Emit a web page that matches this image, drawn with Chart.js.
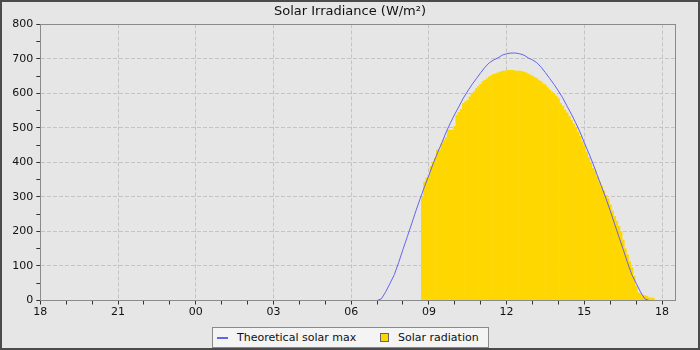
<!DOCTYPE html>
<html>
<head>
<meta charset="utf-8">
<script src="https://cdn.jsdelivr.net/npm/chart.js@4"></script>
<style>
  body { margin: 0; }
  #frame {
    position: relative;
    width: 700px; height: 350px;
    box-sizing: border-box;
    border: 2px solid #4b4b4b;
    background: #e6e6e6;
    font-family: 'DejaVu Sans', sans-serif;
  }
  #chart { position: absolute; left: 0; top: 0; }
  #legend {
    position: absolute; left: 210px; top: 325px;
    width: 277px; height: 21px;
    box-sizing: border-box;
    border: 1px solid #8a8a8a;
    background: #f4f4f4;
    font-size: 11px; color: #111;
  }
  #legend span { position: absolute; white-space: nowrap; line-height: 13px; }
  .swatch-line { position: absolute; left: 4px; top: 9px; width: 11px; height: 2px; background: #6464f0; }
  .swatch-box { position: absolute; left: 167px; top: 5px; width: 7px; height: 7px; border: 1px solid #666; background: #ffd700; }
</style>
</head>
<body>
<div id="frame">
  <canvas id="chart" width="696" height="346"></canvas>
  <div id="legend">
    <div class="swatch-line"></div>
    <span style="left:24px; top:3px;">Theoretical solar max</span>
    <div class="swatch-box"></div>
    <span style="left:185px; top:3px;">Solar radiation</span>
  </div>
</div>
<script>
// axis runs from 18:00 to about 18:30 the next day, in hours since 18:00
const xMin = 0;
const xMax = 24.5;
const yMax = 800;

// theoretical clear-sky maximum, every 10 minutes from 07:00
const theoStart = '07:00';
const theoStepMin = 10;
const theoValues = [
  0, 5, 25, 50, 75, 110, 148, 185, 222, 260,
  296, 330, 363, 397, 428, 457, 488, 515, 540, 563,
  587, 607, 626, 643, 660, 676, 689, 697, 703, 711,
  715, 717, 717, 715, 711, 703, 697, 689, 676, 660,
  643, 626, 607, 587, 563, 540, 515, 488, 457, 428,
  397, 363, 330, 296, 260, 222, 185, 148, 110, 75,
  50, 25, 5, 0
];

// measured solar radiation, every 5 minutes from 08:45
const radStart = '08:45';
const radStepMin = 5;
const radValues = [
  300, 344, 355,
  363, 389, 400, 412, 436, 436, 455, 465, 472, 494, 494, 494,
  505, 537, 545, 554, 571, 576, 580, 590, 600, 605, 614, 620,
  626, 634, 638, 642, 648, 652, 655, 657, 660, 662, 665, 665,
  666, 667, 667, 667, 665, 665, 665, 664, 662, 660, 656, 653,
  650, 646, 643, 637, 634, 628, 624, 617, 610, 604, 598, 592,
  585, 571, 563, 552, 544, 533, 522, 512, 500, 488, 476, 460,
  447, 431, 414, 400, 383, 375, 358, 342, 330, 318, 305, 295,
  277, 260, 244, 230, 215, 200, 175, 150, 132, 112, 95, 70,
  40, 22, 20, 14, 14, 12, 8, 8, 6
];

// 'HH:MM' -> hours since 18:00 the evening before
function toAxisHours(hhmm) {
  const [h, m] = hhmm.split(':').map(Number);
  return ((h - 18 + 24) % 24) + m / 60;
}

function toPoints(start, stepMin, values) {
  const t0 = toAxisHours(start);
  return values.map((v, i) => ({ x: t0 + i * stepMin / 60, y: v }));
}

const FONT = { family: "'DejaVu Sans', sans-serif", size: 11 };
const GRID = '#c4c4c4';
const AXIS = '#8a8a8a';

// closes the plot box on the top and right sides
const plotFrame = {
  id: 'plotFrame',
  afterDraw(chart) {
    const { ctx, chartArea: a } = chart;
    ctx.save();
    ctx.strokeStyle = AXIS;
    ctx.lineWidth = 1;
    const l = Math.floor(a.left) + 0.5, t = Math.floor(a.top) + 0.5;
    const r = Math.floor(a.right) + 0.5, b = Math.floor(a.bottom) + 0.5;
    ctx.strokeRect(l, t, r - l, b - t);
    ctx.restore();
  }
};

new Chart(document.getElementById('chart').getContext('2d'), {
  type: 'bar',
  data: {
    datasets: [
      {
        type: 'line',
        label: 'Theoretical solar max',
        data: toPoints(theoStart, theoStepMin, theoValues),
        borderColor: '#6464f0',
        borderWidth: 1,
        pointRadius: 0,
        tension: 0,
        fill: false,
        order: 0
      },
      {
        type: 'bar',
        label: 'Solar radiation',
        data: toPoints(radStart, radStepMin, radValues),
        backgroundColor: '#ffd700',
        borderWidth: 0,
        barPercentage: 1,
        categoryPercentage: 1,
        order: 1
      }
    ]
  },
  options: {
    responsive: false,
    animation: false,
    devicePixelRatio: 1,
    layout: { padding: { left: 0, right: 0, top: 0, bottom: 25.5 } },
    plugins: {
      legend: { display: false },
      tooltip: { enabled: false },
      title: {
        display: true,
        text: 'Solar Irradiance (W/m²)',
        color: '#111',
        font: { family: FONT.family, size: 13, weight: 'normal' },
        padding: { top: 2, bottom: 4.8 }
      }
    },
    scales: {
      x: {
        type: 'linear',
        min: xMin,
        max: xMax,
        offset: false,
        afterFit: s => { s.height = 22; },
        grid: {
          offset: false,
          color: c => (c.tick && c.tick.value % 3 === 0) ? GRID : 'transparent',
          tickColor: '#333',
          tickLength: 4
        },
        border: { color: AXIS, dash: [4, 2] },
        ticks: {
          stepSize: 1,
          includeBounds: false,
          autoSkip: false,
          maxRotation: 0,
          padding: 1,
          color: '#111',
          font: FONT,
          callback: v => v % 3 === 0 ? String((18 + v) % 24).padStart(2, '0') : ''
        }
      },
      y: {
        min: 0,
        max: yMax,
        afterFit: s => { s.width = 38.3; },
        grid: {
          color: c => (c.tick && c.tick.value % 100 === 0) ? GRID : 'transparent',
          tickColor: '#333',
          tickLength: 4
        },
        border: { color: AXIS, dash: [4, 2] },
        ticks: {
          stepSize: 50,
          autoSkip: false,
          padding: 3,
          color: '#111',
          font: FONT,
          callback: v => v % 100 === 0 ? String(v) : ''
        }
      },
      // empty right-hand axis, only keeps the margin right of the plot
      yRight: {
        position: 'right',
        afterFit: s => { s.width = 23; },
        grid: { display: false },
        border: { display: false },
        ticks: { display: false }
      }
    }
  },
  plugins: [plotFrame]
});
</script>
</body>
</html>
